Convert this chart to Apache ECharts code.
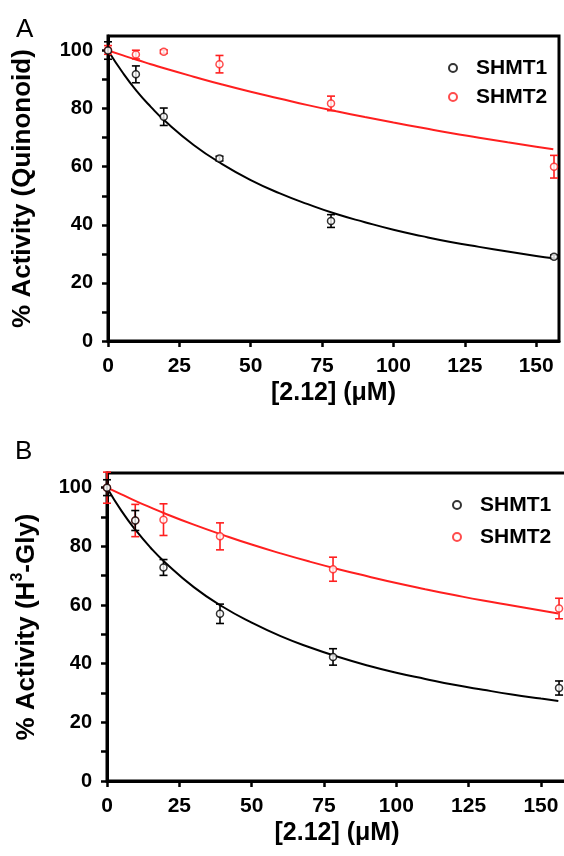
<!DOCTYPE html>
<html>
<head>
<meta charset="utf-8">
<script src="https://cdn.jsdelivr.net/npm/echarts@6/dist/echarts.min.js"></script>
<style>
html,body{margin:0;padding:0;background:#fff;}
#chart{width:564px;height:856px;}
</style>
</head>
<body>
<div id="chart"></div>
<script>
// ---- data ----
var dose = [0, 9.77, 19.53, 39.06, 78.13, 156.25];

// Panel A (Quinonoid)
var aShmt1 = [100, 91.8, 77.2, 62.8, 41.3, 29.0];
var aShmt1Err = [3.0, 2.9, 3.0, 0.8, 2.2, 0.6];
var aShmt2 = [100.2, 98.6, 99.6, 95.3, 81.8, 60.0];
var aShmt2Err = [1.5, 1.5, 0.6, 3.0, 2.5, 3.9];

// Panel B (H3-Gly)
var bShmt1 = [100, 88.8, 72.8, 57.0, 42.3, 31.7];
var bShmt1Err = [2.7, 3.4, 2.7, 3.3, 2.8, 2.4];
var bShmt2 = [100, 88.8, 89.1, 83.4, 72.2, 58.8];
var bShmt2Err = [5.3, 5.5, 5.4, 4.6, 4.1, 3.5];

// fitted curves
var fitX = [0, 5, 10, 15, 20, 30, 40, 50, 60, 70, 80, 90, 100, 110, 120, 130, 140, 150, 156];
var aFit1 = [100, 92.6, 86.1, 80.6, 75.7, 67.5, 60.9, 55.4, 50.9, 47.1, 43.7, 40.9, 38.3, 36.1, 34.1, 32.4, 30.8, 29.3, 28.5];
var aFit2 = [100, 98.4, 96.8, 95.3, 93.8, 91.0, 88.3, 85.8, 83.5, 81.2, 79.1, 77.1, 75.2, 73.4, 71.6, 70.0, 68.4, 66.9, 66.0];
var bFit1 = [100, 92.1, 85.4, 79.6, 74.6, 66.1, 59.4, 54.0, 49.4, 45.6, 42.3, 39.4, 36.9, 34.8, 32.8, 31.1, 29.5, 28.1, 27.3];
var bFit2 = [100, 97.7, 95.4, 93.3, 91.2, 87.4, 83.9, 80.6, 77.6, 74.8, 72.2, 69.8, 67.5, 65.4, 63.4, 61.5, 59.8, 58.1, 57.1];

// axis ticks / labels
var yTicks = [0, 10, 20, 30, 40, 50, 60, 70, 80, 90, 100];
var yLabels = [0, 20, 40, 60, 80, 100];
var xTicks = [0, 25, 50, 75, 100, 125, 150];
var seriesNames = ['SHMT1', 'SHMT2'];

// ---- styling ----
var FONT = "'Liberation Sans', Arial, Helvetica, sans-serif";
var BLACK = '#000000';
var RED = '#ff1f1f';

function zip(xs, ys) { return xs.map(function (x, i) { return [x, ys[i]]; }); }
function errData(xs, ys, es) { return xs.map(function (x, i) { return [x, ys[i] - es[i], ys[i] + es[i]]; }); }

function errSeries(data, color, idx, z) {
  return {
    type: 'custom',
    xAxisIndex: idx, yAxisIndex: idx,
    silent: true,
    clip: false,
    z: z,
    encode: { x: 0, y: [1, 2] },
    data: data,
    renderItem: function (params, api) {
      var x = api.value(0);
      var lo = api.coord([x, api.value(1)]);
      var hi = api.coord([x, api.value(2)]);
      var hw = 4;
      var st = { stroke: color, lineWidth: 1.6 };
      return {
        type: 'group',
        children: [
          { type: 'line', shape: { x1: hi[0], y1: hi[1], x2: lo[0], y2: lo[1] }, style: st },
          { type: 'line', shape: { x1: hi[0] - hw, y1: hi[1], x2: hi[0] + hw, y2: hi[1] }, style: st },
          { type: 'line', shape: { x1: lo[0] - hw, y1: lo[1], x2: lo[0] + hw, y2: lo[1] }, style: st }
        ]
      };
    }
  };
}
function ptSeries(name, data, color, idx, z) {
  return {
    type: 'scatter', name: name,
    xAxisIndex: idx, yAxisIndex: idx,
    symbol: 'circle', symbolSize: 7,
    itemStyle: { color: '#ffffff', borderColor: color, borderWidth: 1.5 },
    z: z,
    clip: false,
    data: data
  };
}
function fitSeries(name, data, color, idx) {
  return {
    type: 'line', name: name,
    xAxisIndex: idx, yAxisIndex: idx,
    smooth: true, showSymbol: false, symbol: 'none',
    lineStyle: { color: color, width: 2 },
    z: 2,
    data: data
  };
}

function xAxis(idx, max, nameGap) {
  return {
    type: 'value', gridIndex: idx, min: 0, max: max, interval: 25,
    name: '[2.12] (\u03bcM)', nameLocation: 'middle', nameGap: nameGap,
    nameTextStyle: { fontFamily: FONT, fontWeight: 'bold', fontSize: 25, color: BLACK },
    axisLine: { show: true, onZero: false, lineStyle: { color: BLACK, width: 3 } },
    axisTick: { show: true, inside: false, length: 6, lineStyle: { color: BLACK, width: 2.5 }, customValues: xTicks },
    axisLabel: { fontFamily: FONT, fontWeight: 'bold', fontSize: 21, color: BLACK, margin: 15, customValues: xTicks },
    splitLine: { show: false }
  };
}
function yAxis(idx, name, gap, rich) {
  var ax = {
    type: 'value', gridIndex: idx, min: 0, max: 105, interval: 10,
    name: name, nameLocation: 'middle', nameGap: gap, nameRotate: 90,
    nameTextStyle: { fontFamily: FONT, fontWeight: 'bold', fontSize: 26, color: BLACK },
    axisLine: { show: true, onZero: false, lineStyle: { color: BLACK, width: 3 } },
    axisTick: { show: true, inside: false, length: 6, lineStyle: { color: BLACK, width: 2.5 }, customValues: yTicks },
    axisLabel: { fontFamily: FONT, fontWeight: 'bold', fontSize: 20, color: BLACK, margin: 15, customValues: yLabels },
    splitLine: { show: false }
  };
  if (rich) ax.nameTextStyle.rich = rich;
  return ax;
}

var richSup = {
  a: { fontFamily: FONT, fontWeight: 'bold', fontSize: 26, lineHeight: 34, color: BLACK },
  s: { fontFamily: FONT, fontWeight: 'bold', fontSize: 16, lineHeight: 16, color: BLACK, verticalAlign: 'top' }
};

var legendText = { fontFamily: FONT, fontWeight: 'bold', fontSize: 21, color: BLACK, padding: [0, 0, 0, 14], lineHeight: 22 };

var option = {
  animation: false,
  backgroundColor: '#ffffff',
  title: [
    { text: 'A', left: 11, top: 12, textStyle: { fontFamily: FONT, fontWeight: 'normal', fontSize: 26, color: BLACK } },
    { text: 'B', left: 10, top: 434, textStyle: { fontFamily: FONT, fontWeight: 'normal', fontSize: 26, color: BLACK } }
  ],
  legend: [
    { orient: 'vertical', left: 443, top: 52, itemWidth: 8, itemHeight: 8, itemGap: 7, icon: 'circle',
      data: seriesNames, textStyle: legendText, selectedMode: false },
    { orient: 'vertical', left: 447, top: 489, itemWidth: 8, itemHeight: 8, itemGap: 10, icon: 'circle',
      data: seriesNames, textStyle: legendText, selectedMode: false }
  ],
  grid: [
    { left: 108, right: 5, top: 36, bottom: 515, outerBoundsMode: 'none', containLabel: false,
      show: true, borderColor: BLACK, borderWidth: 3, backgroundColor: 'transparent' },
    { left: 107, right: -3, top: 473, bottom: 75, outerBoundsMode: 'none', containLabel: false,
      show: true, borderColor: BLACK, borderWidth: 3, backgroundColor: 'transparent' }
  ],
  xAxis: [xAxis(0, 158, 40), xAxis(1, 159, 40)],
  yAxis: [
    yAxis(0, '% Activity (Quinonoid)', 72),
    yAxis(1, '{a|% Activity (H}{s|3}{a|-Gly)}', 63, richSup)
  ],
  series: [
    fitSeries('SHMT1 fit A', zip(fitX, aFit1), BLACK, 0),
    fitSeries('SHMT2 fit A', zip(fitX, aFit2), RED, 0),
    errSeries(errData(dose, aShmt2, aShmt2Err), RED, 0, 3),
    ptSeries('SHMT2', zip(dose, aShmt2), RED, 0, 4),
    errSeries(errData(dose, aShmt1, aShmt1Err), BLACK, 0, 5),
    ptSeries('SHMT1', zip(dose, aShmt1), BLACK, 0, 6),

    fitSeries('SHMT1 fit B', zip(fitX, bFit1), BLACK, 1),
    fitSeries('SHMT2 fit B', zip(fitX, bFit2), RED, 1),
    errSeries(errData(dose, bShmt2, bShmt2Err), RED, 1, 3),
    ptSeries('SHMT2', zip(dose, bShmt2), RED, 1, 4),
    errSeries(errData(dose, bShmt1, bShmt1Err), BLACK, 1, 5),
    ptSeries('SHMT1', zip(dose, bShmt1), BLACK, 1, 6)
  ]
};

var chart = echarts.init(document.getElementById('chart'), null, { renderer: 'canvas' });
chart.setOption(option);
</script>
</body>
</html>
